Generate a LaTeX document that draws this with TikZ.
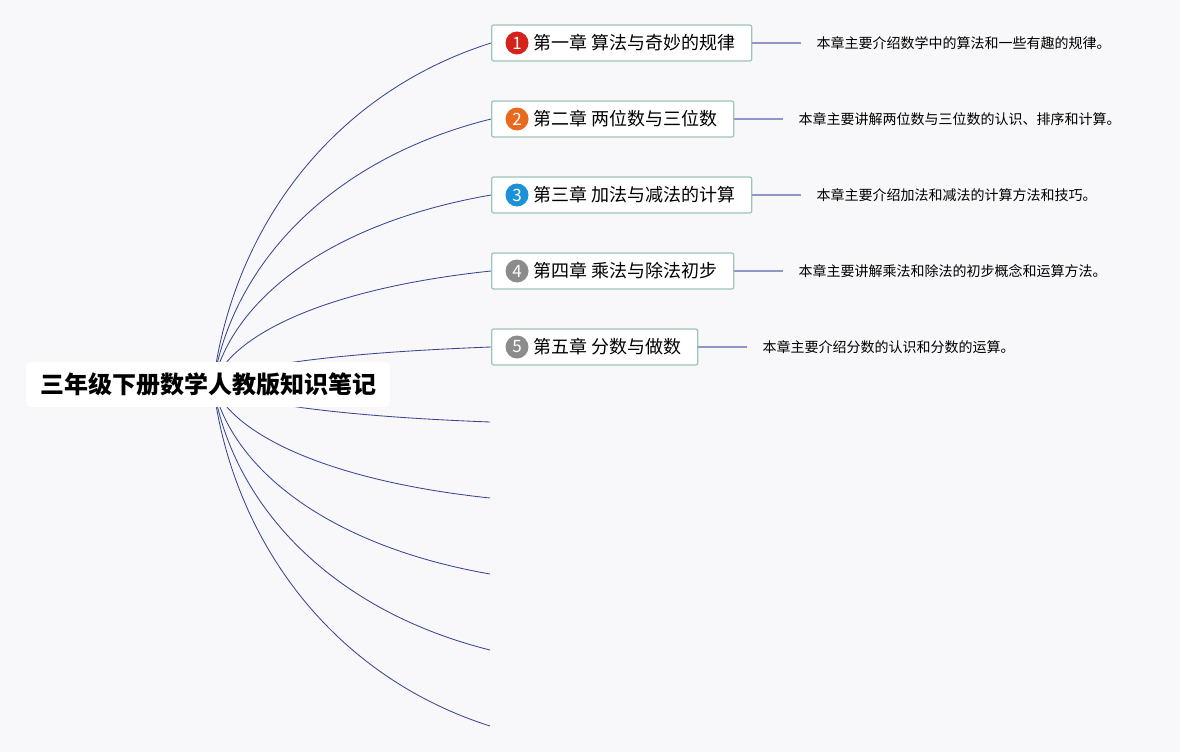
\documentclass[tikz,border=0pt]{standalone}
\usepackage{fontspec}
\setmainfont{Noto Sans CJK SC}
\usetikzlibrary{positioning,backgrounds}

\begin{document}
\begin{tikzpicture}[x=1pt,y=-1pt,
    chap/.style={draw=myframe, line width=1.3pt, fill=white, rounded corners=2pt,
        anchor=west, minimum height=36pt, inner xsep=16pt,
        font=\fontsize{18}{20}\selectfont},
    num/.style={circle, fill=#1, text=white, minimum size=23pt, inner sep=0pt,
        font=\fontsize{17}{17}\selectfont},
    desc/.style={inner xsep=15pt, right=49pt of #1,
        font=\fontsize{14}{16}\selectfont},
    link/.style={draw=mylink, line width=1.4pt},
    branch/.style={draw=mybranch, line width=0.85pt}]
    \definecolor{mybg}{RGB}{248,248,250}
    \definecolor{mybranch}{RGB}{58,70,145}
    \definecolor{myframe}{RGB}{157,198,187}
    \definecolor{mylink}{RGB}{142,151,198}
    \definecolor{myred}{RGB}{212,35,27}
    \definecolor{myorange}{RGB}{232,106,30}
    \definecolor{myblue}{RGB}{27,146,216}
    \definecolor{mygray}{RGB}{140,140,140}

    \useasboundingbox (0,0) rectangle (1180,752);

    \node[fill=white, rounded corners=5pt, minimum height=45pt, inner xsep=14pt,
        font=\fontsize{24}{26}\selectfont\bfseries] (root) at (208,384.5)
        {三年级下册数学人教版知识笔记};

    % chapters
    \node[chap] (c1) at (491,43) {\hspace*{26pt}第一章 算法与奇妙的规律};
    \node[num=myred] (n1) at ([xshift=26pt]c1.west) {1};
    \node[desc=c1] (d1) {本章主要介绍数学中的算法和一些有趣的规律。};
    \draw[link] (c1) -- (d1);

    \node[chap] (c2) at (491,119) {\hspace*{26pt}第二章 两位数与三位数};
    \node[num=myorange] (n2) at ([xshift=26pt]c2.west) {2};
    \node[desc=c2] (d2) {本章主要讲解两位数与三位数的认识、排序和计算。};
    \draw[link] (c2) -- (d2);

    \node[chap] (c3) at (491,195) {\hspace*{26pt}第三章 加法与减法的计算};
    \node[num=myblue] (n3) at ([xshift=26pt]c3.west) {3};
    \node[desc=c3] (d3) {本章主要介绍加法和减法的计算方法和技巧。};
    \draw[link] (c3) -- (d3);

    \node[chap] (c4) at (491,271) {\hspace*{26pt}第四章 乘法与除法初步};
    \node[num=mygray] (n4) at ([xshift=26pt]c4.west) {4};
    \node[desc=c4] (d4) {本章主要讲解乘法和除法的初步概念和运算方法。};
    \draw[link] (c4) -- (d4);

    \node[chap] (c5) at (491,347) {\hspace*{26pt}第五章 分数与做数};
    \node[num=mygray] (n5) at ([xshift=26pt]c5.west) {5};
    \node[desc=c5] (d5) {本章主要介绍分数的认识和分数的运算。};
    \draw[link] (c5) -- (d5);

    % empty branches
    \coordinate (e6) at (490,422);
    \coordinate (e7) at (490,498);
    \coordinate (e8) at (490,574);
    \coordinate (e9) at (490,650);
    \coordinate (e10) at (490,726);

    \begin{scope}[on background layer]
        \fill[mybg] (0,0) rectangle (1180,752);
        \draw[branch] ([xshift=5pt]root.center) .. controls (232,231) and (330,94) .. (c1.west);
        \draw[branch] ([xshift=5pt]root.center) .. controls (232,265) and (330,159) .. (c2.west);
        \draw[branch] ([xshift=5pt]root.center) .. controls (232,299) and (330,223) .. (c3.west);
        \draw[branch] ([xshift=5pt]root.center) .. controls (232,333) and (330,288) .. (c4.west);
        \draw[branch] ([xshift=5pt]root.center) .. controls (232,367) and (330,353) .. (c5.west);
        \draw[branch] ([xshift=5pt]root.center) .. controls (232,401) and (330,416) .. (e6);
        \draw[branch] ([xshift=5pt]root.center) .. controls (232,435) and (330,481) .. (e7);
        \draw[branch] ([xshift=5pt]root.center) .. controls (232,470) and (330,546) .. (e8);
        \draw[branch] ([xshift=5pt]root.center) .. controls (232,504) and (330,610) .. (e9);
        \draw[branch] ([xshift=5pt]root.center) .. controls (232,538) and (330,675) .. (e10);
    \end{scope}
\end{tikzpicture}
\end{document}
